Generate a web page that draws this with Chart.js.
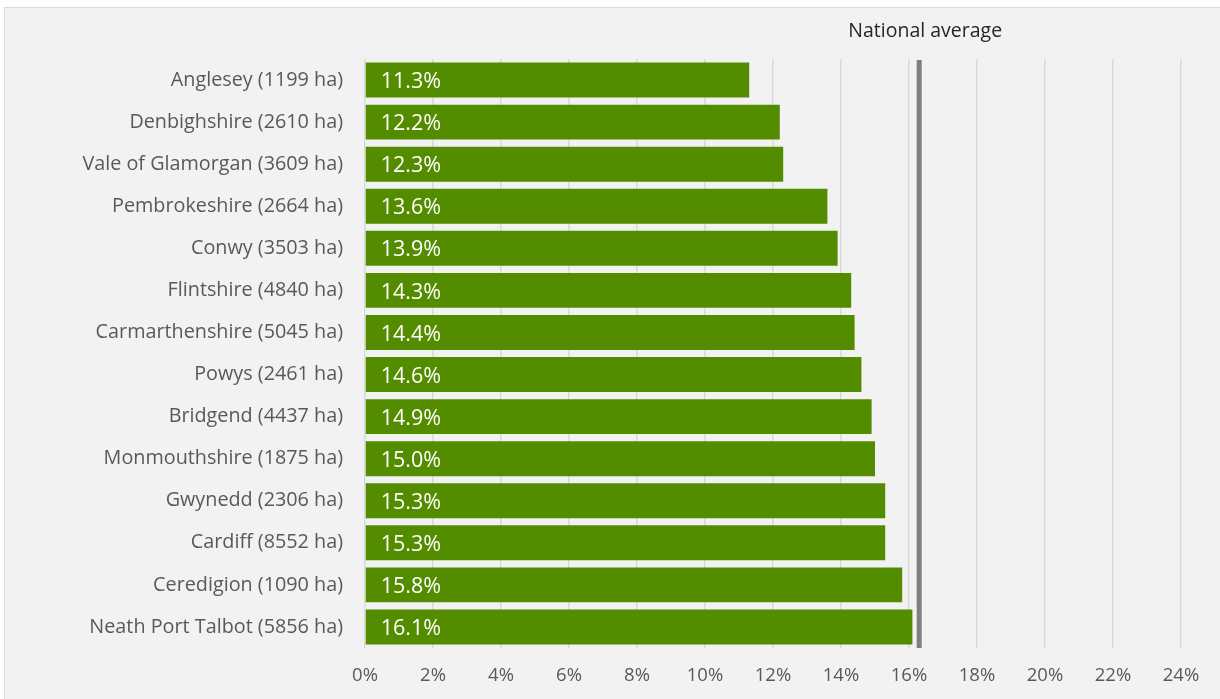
<!DOCTYPE html>
<html>
<head>
<meta charset="utf-8">
<script src="https://cdn.jsdelivr.net/npm/chart.js@4/dist/chart.umd.min.js"></script>
<style>
  html, body { margin: 0; padding: 0; background: #ffffff; }
  #frame {
    position: absolute; left: 4px; top: 7px; width: 1230px; height: 710px;
    background: #f2f2f2; border: 1px solid #d9d9d9;
  }
  #wrap { position: absolute; left: 0; top: 0; width: 1220px; height: 699px; }
</style>
</head>
<body>
<div id="frame"></div>
<div id="wrap"><canvas id="chart" width="1220" height="699"></canvas></div>
<script>
// Categorie e valori (percentuale)
const areas = [
  'Anglesey (1199 ha)', 'Denbighshire (2610 ha)', 'Vale of Glamorgan (3609 ha)',
  'Pembrokeshire (2664 ha)', 'Conwy (3503 ha)', 'Flintshire (4840 ha)',
  'Carmarthenshire (5045 ha)', 'Powys (2461 ha)', 'Bridgend (4437 ha)',
  'Monmouthshire (1875 ha)', 'Gwynedd (2306 ha)', 'Cardiff (8552 ha)',
  'Ceredigion (1090 ha)', 'Neath Port Talbot (5856 ha)'
];
const shares = [11.3, 12.2, 12.3, 13.6, 13.9, 14.3, 14.4, 14.6, 14.9, 15.0, 15.3, 15.3, 15.8, 16.1];
const nationalAverage = 16.3;
const nationalLabel = 'National average';
const xTicks = [0, 2, 4, 6, 8, 10, 12, 14, 16, 18, 20, 22, 24];

const fontFamily = "'Open Sans', 'Noto Sans', sans-serif";

// Etichette dentro le barre
const barLabels = {
  id: 'barLabels',
  afterDatasetsDraw(chart) {
    const ctx = chart.ctx;
    const meta = chart.getDatasetMeta(0);
    ctx.save();
    ctx.fillStyle = '#ffffff';
    ctx.font = '21.5px ' + fontFamily;
    ctx.textAlign = 'left';
    ctx.textBaseline = 'middle';
    meta.data.forEach((bar, i) => {
      ctx.fillText(shares[i].toFixed(1) + '%', bar.base + 15, bar.y + 2);
    });
    ctx.restore();
  }
};

// Linea media nazionale
const avgLine = {
  id: 'avgLine',
  afterDatasetsDraw(chart) {
    const ctx = chart.ctx;
    const x = chart.scales.x.getPixelForValue(nationalAverage);
    const area = chart.chartArea;
    ctx.save();
    ctx.strokeStyle = '#7f7f7f';
    ctx.lineWidth = 5;
    ctx.beginPath();
    ctx.moveTo(x, area.top + 1);
    ctx.lineTo(x, area.bottom);
    ctx.stroke();
    ctx.fillStyle = '#262626';
    ctx.font = '19.5px ' + fontFamily;
    ctx.textAlign = 'center';
    ctx.textBaseline = 'middle';
    ctx.fillText(nationalLabel, x + 6, 31);
    ctx.restore();
  }
};

new Chart(document.getElementById('chart'), {
  type: 'bar',
  data: {
    labels: areas,
    datasets: [{
      data: shares,
      backgroundColor: '#548c00',
      borderWidth: 0,
      barPercentage: 0.83,
      categoryPercentage: 1.0
    }]
  },
  options: {
    indexAxis: 'y',
    responsive: false,
    animation: false,
    layout: { padding: { top: 59, right: 39, bottom: 0, left: 0 } },
    plugins: {
      legend: { display: false },
      tooltip: { enabled: false }
    },
    scales: {
      x: {
        min: 0,
        max: 24,
        afterBuildTicks(scale) { scale.ticks = xTicks.map(v => ({ value: v })); },
        afterFit(scale) { scale.height = 51; },
        grid: { color: '#d9d9d9', lineWidth: 1.5, drawTicks: false },
        border: { display: false },
        ticks: {
          padding: 17,
          color: '#595959',
          font: { family: fontFamily, size: 18.5 },
          callback: v => v + '%'
        }
      },
      y: {
        afterFit(scale) { scale.width = 365; },
        grid: { display: false, drawTicks: false },
        border: { display: false },
        ticks: {
          padding: 22,
          color: '#595959',
          font: { family: fontFamily, size: 19.8 }
        }
      }
    }
  },
  plugins: [barLabels, avgLine]
});
</script>
</body>
</html>
